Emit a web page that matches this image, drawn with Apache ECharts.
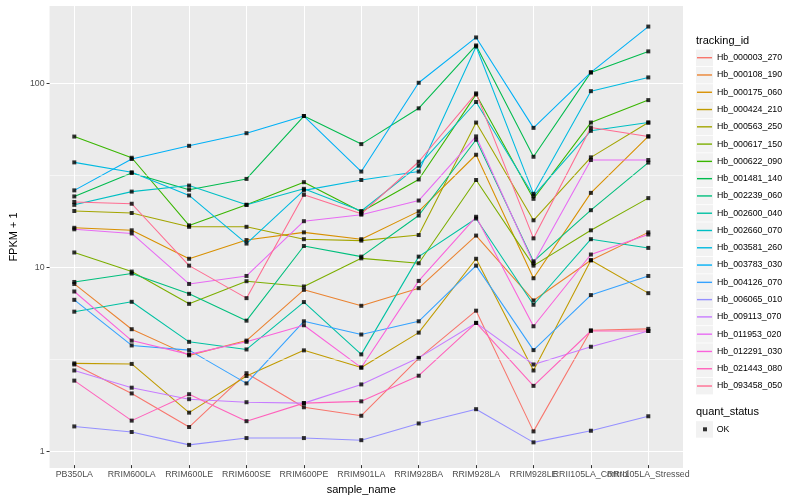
<!DOCTYPE html>
<html><head><meta charset="utf-8">
<script src="https://cdn.jsdelivr.net/npm/echarts@6/dist/echarts.min.js"></script>
<style>html,body{margin:0;padding:0;background:#fff}#c{width:800px;height:500px}</style>
</head><body><div id="c"></div>
<script>
const categories = ['PB350LA','RRIM600LA','RRIM600LE','RRIM600SE','RRIM600PE','RRIM901LA','RRIM928BA','RRIM928LA','RRIM928LE','RRII105LA_Control','RRII105LA_Stressed'];
const trackingIds = ['Hb_000003_270','Hb_000108_190','Hb_000175_060','Hb_000424_210','Hb_000563_250','Hb_000617_150','Hb_000622_090','Hb_001481_140','Hb_002239_060','Hb_002600_040','Hb_002660_070','Hb_003581_260','Hb_003783_030','Hb_004126_070','Hb_006065_010','Hb_009113_070','Hb_011953_020','Hb_012291_030','Hb_021443_080','Hb_093458_050'];
const colors = ['#F8766D','#EA8331','#D89000','#C09B00','#A3A500','#7CAE00','#39B600','#00BB4E','#00BF7D','#00C1A3','#00BFC4','#00BAE0','#00B0F6','#35A2FF','#9590FF','#C77CFF','#E76BF3','#FA62DB','#FF62BC','#FF6C91'];

const Hb_000003_270 = [2.88, 2.00, 1.31, 2.58, 1.68, 1.51, 3.11, 5.67, 1.24, 4.43, 4.51];
const Hb_000108_190 = [7.94, 4.49, 3.23, 3.89, 7.37, 6.03, 7.53, 14.6, 6.45, 10.7, 15.2];
const Hb_000175_060 = [16.1, 15.6, 10.9, 13.8, 15.2, 13.95, 19.8, 40.4, 8.53, 25.0, 50.9];
const Hb_000424_210 = [2.92, 2.90, 1.57, 2.49, 3.44, 2.77, 4.30, 10.9, 2.67, 10.7, 7.07];
const Hb_000563_250 = [19.9, 19.4, 16.3, 16.3, 13.95, 13.7, 14.7, 60.6, 17.7, 39.1, 60.6];
const Hb_000617_150 = [11.8, 9.28, 6.18, 8.22, 7.69, 10.96, 10.3, 29.4, 10.0, 15.6, 23.4];
const Hb_000622_090 = [50.8, 38.9, 16.6, 21.5, 28.6, 19.7, 29.6, 86.4, 23.2, 60.6, 80.4];
const Hb_001481_140 = [23.9, 32.1, 26.0, 29.8, 65.8, 46.2, 72.5, 160, 39.4, 114, 148.5];
const Hb_002239_060 = [8.14, 9.05, 7.01, 5.00, 12.8, 11.2, 18.8, 48.8, 10.55, 20.1, 36.6];
const Hb_002600_040 = [5.60, 6.34, 3.83, 3.48, 6.32, 3.27, 11.2, 18.1, 6.11, 13.95, 12.5];
const Hb_002660_070 = [21.5, 25.4, 27.4, 21.5, 26.3, 19.9, 35.2, 78.5, 24.1, 54.6, 60.6];
const Hb_003581_260 = [36.7, 32.4, 24.2, 13.2, 25.8, 29.4, 32.7, 158, 24.7, 90.0, 107];
const Hb_003783_030 = [25.8, 38.3, 45.2, 53.0, 65.8, 32.7, 100, 177, 56.7, 114, 203];
const Hb_004126_070 = [6.50, 3.66, 3.45, 2.27, 4.96, 4.20, 4.96, 10.0, 3.45, 6.90, 8.78];
const Hb_006065_010 = [1.32, 1.23, 1.046, 1.14, 1.14, 1.11, 1.37, 1.64, 1.08, 1.25, 1.50];
const Hb_009113_070 = [2.67, 2.15, 1.86, 1.79, 1.77, 2.24, 3.13, 4.86, 2.88, 3.60, 4.39];
const Hb_011953_020 = [15.8, 15.0, 7.94, 8.78, 17.5, 19.0, 22.7, 50.9, 10.3, 37.8, 37.8];
const Hb_012291_030 = [7.22, 3.89, 3.27, 3.83, 4.72, 2.77, 8.25, 18.5, 4.66, 11.5, 14.8];
const Hb_021443_080 = [2.35, 1.42, 1.98, 1.41, 1.77, 1.81, 2.50, 4.86, 2.20, 4.39, 4.39];
const Hb_093458_050 = [22.3, 21.8, 10.0, 6.64, 24.4, 19.2, 37.0, 87.5, 14.1, 56.9, 50.9];

const seriesValues = [Hb_000003_270, Hb_000108_190, Hb_000175_060, Hb_000424_210, Hb_000563_250, Hb_000617_150, Hb_000622_090, Hb_001481_140, Hb_002239_060, Hb_002600_040, Hb_002660_070, Hb_003581_260, Hb_003783_030, Hb_004126_070, Hb_006065_010, Hb_009113_070, Hb_011953_020, Hb_012291_030, Hb_021443_080, Hb_093458_050];

const yMin = 0.811, yMax = 263;
const majorTicks = [1, 10, 100];
const minorBreaks = [3.1623, 31.623];
const statusName = 'OK';

const FONT = 'Liberation Sans, Arial, Helvetica, sans-serif';

// layout constants
const legendLeft = 697, legendTop = 49.2, legendRow = 17.28;

const series = [];
series.push({
  type: 'line', xAxisIndex: 0, yAxisIndex: 0, data: [[0.5, 1]], silent: true,
  showSymbol: false, symbol: 'none', lineStyle: { opacity: 0 },
  markLine: {
    silent: true, symbol: 'none', label: { show: false }, animation: false,
    lineStyle: { color: '#ffffff', width: 0.55, type: 'solid' },
    data: minorBreaks.map(v => ({ yAxis: v }))
  }
});
trackingIds.forEach((id, i) => {
  series.push({
    type: 'line', name: id, xAxisIndex: 1, yAxisIndex: 1,
    data: seriesValues[i], showSymbol: false, symbol: 'none',
    lineStyle: { color: colors[i], width: 1.07 }, itemStyle: { color: colors[i] },
    emphasis: { disabled: true }, silent: true, z: 2
  });
});
const points = [];
seriesValues.forEach(arr => arr.forEach((v, j) => points.push([categories[j], v])));
series.push({
  type: 'scatter', name: statusName, xAxisIndex: 1, yAxisIndex: 1,
  data: points, symbol: 'rect', symbolSize: 4,
  itemStyle: { color: '#000000' }, silent: true, z: 3
});

const graphics = [];
trackingIds.forEach((id, i) => {
  graphics.push({ type: 'rect', z: -1, silent: true,
    shape: { x: legendLeft - 1, y: legendTop + i * legendRow + 0.4, width: 17, height: 16.5 },
    style: { fill: '#F2F2F2' } });
});
graphics.push({ type: 'rect', z: -1, silent: true,
  shape: { x: legendLeft - 1, y: 420.8 + 0.4, width: 17, height: 16.5 }, style: { fill: '#F2F2F2' } });

const option = {
  animation: false,
  backgroundColor: '#ffffff',
  textStyle: { fontFamily: FONT },
  title: [
    { text: 'tracking_id', left: 696, top: 34, padding: 0,
      textStyle: { fontSize: 11, fontWeight: 'normal', color: '#000', fontFamily: FONT, lineHeight: 13 } },
    { text: 'quant_status', left: 696, top: 405, padding: 0,
      textStyle: { fontSize: 11, fontWeight: 'normal', color: '#000', fontFamily: FONT, lineHeight: 13 } }
  ],
  legend: [
    { data: trackingIds, orient: 'vertical', left: legendLeft, top: legendTop, padding: 0,
      icon: 'rect', itemWidth: 15, itemHeight: 1.4, itemGap: 0.28, selectedMode: false,
      textStyle: { fontSize: 8.8, color: '#000', fontFamily: FONT, lineHeight: 17 } },
    { data: [statusName], orient: 'vertical', left: 703, top: 420.8, padding: 0,
      icon: 'rect', itemWidth: 4, itemHeight: 4, selectedMode: false,
      textStyle: { fontSize: 8.8, color: '#000', fontFamily: FONT, lineHeight: 17, padding: [0, 0, 0, 4.7] } }
  ],
  graphic: graphics,
  grid: [
    { left: 40, top: 6, width: 643, height: 462, show: true, backgroundColor: '#EBEBEB', borderWidth: 0, containLabel: false },
    { left: 74.3, top: 6, width: 574, height: 462, show: false, containLabel: false }
  ],
  xAxis: [
    { gridIndex: 0, type: 'value', min: 0, max: 1, show: false },
    { gridIndex: 1, type: 'category', data: categories, boundaryGap: false,
      axisLine: { show: false },
      axisTick: { show: true, length: 3, interval: 0, lineStyle: { color: '#333333', width: 1 } },
      axisLabel: { interval: 0, margin: 5, fontSize: 8.8, color: '#4D4D4D', fontFamily: FONT, hideOverlap: false },
      splitLine: { show: true, interval: 0, lineStyle: { color: '#ffffff', width: 1.07 } },
      name: 'sample_name', nameLocation: 'middle', nameGap: 14,
      nameTextStyle: { fontSize: 11, color: '#000', fontFamily: FONT } }
  ],
  yAxis: [
    { gridIndex: 0, type: 'log', logBase: 10, min: yMin, max: yMax,
      axisLine: { show: false },
      axisTick: { show: true, length: 3, customValues: majorTicks, lineStyle: { color: '#333333', width: 1 } },
      axisLabel: { margin: 5, fontSize: 8.8, color: '#4D4D4D', fontFamily: FONT,
        formatter: v => { const m = majorTicks.find(t => Math.abs(t - v) / t < 1e-6); return m ? String(m) : ''; } },
      splitLine: { show: true, lineStyle: { color: '#ffffff', width: 1.07 } },
      name: 'FPKM + 1', nameLocation: 'middle', nameGap: 22,
      nameTextStyle: { fontSize: 11, color: '#000', fontFamily: FONT } },
    { gridIndex: 1, type: 'log', logBase: 10, min: yMin, max: yMax, show: false }
  ],
  series: series
};
const chart = echarts.init(document.getElementById('c'), null, { renderer: 'canvas' });
chart.setOption(option);
</script></body></html>
